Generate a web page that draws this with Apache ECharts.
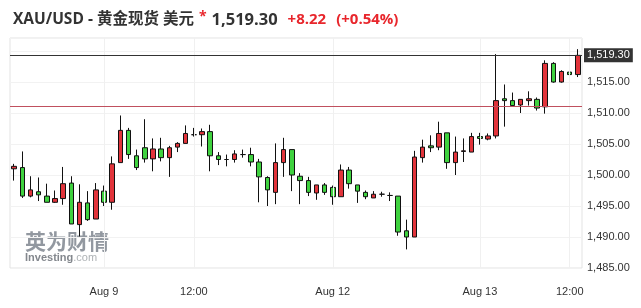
<!DOCTYPE html>
<html><head><meta charset="utf-8">
<script src="https://cdn.jsdelivr.net/npm/echarts@6/dist/echarts.min.js"></script>
<style>html,body{margin:0;padding:0;background:#fff}#c{width:641px;height:308px}</style>
</head><body><div id="c"></div>
<script>
const opens = [1501.0,1501.2,1496.6,1497.3,1496.6,1495.6,1496.2,1498.7,1492.0,1495.5,1492.9,1497.4,1495.6,1502.0,1507.2,1503.1,1504.4,1502.6,1504.2,1502.8,1504.5,1505.1,1506.5,1506.5,1507.0,1503.1,1502.5,1502.5,1503.3,1503.3,1502.1,1499.6,1497.2,1502.0,1504.1,1499.8,1499.1,1497.1,1498.4,1498.0,1496.5,1500.8,1498.4,1497.2,1496.3,1496.9,1496.7,1496.6,1491.0,1490.0,1502.8,1504.7,1504.5,1506.8,1502.0,1503.8,1503.7,1506.2,1505.8,1506.3,1512.3,1512.0,1511.3,1512.0,1512.2,1511.0,1518.0,1515.0,1516.6,1516.2];
const closes = [1501.4,1496.6,1497.6,1496.8,1495.6,1496.2,1498.6,1492.1,1495.6,1492.8,1497.6,1495.6,1501.8,1507.2,1503.3,1501.2,1502.6,1504.2,1502.8,1504.4,1505.1,1506.7,1506.5,1507.0,1503.1,1502.5,1502.5,1503.4,1503.3,1502.1,1499.7,1497.6,1502.0,1504.1,1500.0,1499.1,1497.2,1498.4,1497.2,1496.5,1500.8,1498.6,1497.4,1496.5,1496.9,1496.9,1496.7,1490.8,1490.0,1502.9,1504.5,1504.4,1506.7,1502.0,1503.7,1503.9,1506.2,1505.9,1506.3,1512.0,1512.0,1511.2,1512.2,1512.3,1510.8,1518.0,1515.0,1516.7,1516.2,1519.3];
const lows = [1499.1,1496.3,1496.4,1495.8,1495.6,1495.5,1495.2,1492.1,1490.1,1492.6,1492.9,1495.0,1494.4,1502.0,1502.6,1500.8,1502.0,1500.6,1502.2,1499.7,1503.7,1505.1,1506.2,1504.6,1500.6,1501.6,1501.4,1502.0,1502.8,1501.4,1495.6,1495.0,1495.3,1499.7,1497.4,1495.3,1496.6,1496.0,1496.8,1495.2,1496.5,1497.8,1495.5,1496.1,1496.3,1496.5,1495.8,1490.2,1488.0,1490.0,1502.0,1503.7,1504.0,1501.0,1500.0,1502.1,1503.7,1504.9,1505.6,1505.9,1507.8,1511.2,1510.0,1511.2,1510.4,1509.9,1514.9,1514.9,1515.9,1515.8];
const highs = [1501.8,1503.8,1499.8,1499.6,1498.6,1497.5,1501.3,1499.8,1498.5,1497.4,1498.7,1498.3,1503.0,1509.6,1507.6,1504.1,1509.0,1505.9,1506.0,1504.7,1505.3,1508.0,1507.6,1507.5,1508.1,1503.7,1503.3,1504.0,1504.1,1504.4,1502.6,1499.8,1505.1,1506.0,1504.1,1500.3,1499.7,1498.4,1498.7,1498.3,1501.7,1501.3,1498.4,1497.5,1497.4,1497.3,1497.2,1496.6,1492.8,1503.9,1505.7,1506.4,1508.6,1506.8,1506.2,1505.9,1506.8,1506.8,1506.7,1519.5,1514.6,1513.3,1512.2,1513.5,1512.5,1518.5,1518.2,1516.9,1516.6,1520.3];
const tickIndex = [11, 22, 39, 57, 68];
const tickLabels = ['Aug 9', '12:00', 'Aug 12', 'Aug 13', '12:00'];
const lastPrice = 1519.30;
const prevClose = 1511.08;
const change = '+8.22';
const changePct = '(+0.54%)';
const yMin = 1485, yMax = 1522.1, yStep = 5;

const categories = opens.map((_, i) => String(i));
const ohlc = opens.map((o, i) => [o, closes[i], lows[i], highs[i]]);
const fmt = v => v.toLocaleString('en-US', {minimumFractionDigits: 2, maximumFractionDigits: 2});

const chart = echarts.init(document.getElementById('c'), null, {renderer: 'canvas'});
const vLines = tickIndex.map(i => ({xAxis: String(i), lineStyle: {color: '#f0f0f0', type: 'solid', width: 1}, label: {show: false}}));
chart.setOption({
  animation: false,
  textStyle: {fontFamily: 'Liberation Sans, Arial, sans-serif'},
  title: {
    left: 8, top: 5,
    text: '{a|XAU/USD - 黄金现货 美元} {s|*} {b|' + fmt(lastPrice) + '}  {c|' + change + '}  {c|' + changePct + '}',
    textStyle: {
      rich: {
        a: {fontFamily: 'Open Sans, Noto Sans CJK SC, sans-serif', fontSize: 15.5, color: '#333'},
        s: {fontFamily: 'Open Sans, sans-serif', fontSize: 14, color: '#e8262c', verticalAlign: 'top', padding: [0, 0, 6, 0]},
        b: {fontFamily: 'Open Sans, sans-serif', fontSize: 16.5, fontWeight: 'bold', color: '#333'},
        c: {fontFamily: 'Open Sans, sans-serif', fontSize: 15, fontWeight: 'bold', color: '#e8262c'}
      }
    }
  },
  grid: {left: 10, right: 59, top: 38, bottom: 40, show: true, borderColor: '#e3e3e3', borderWidth: 1},
  xAxis: {
    type: 'category', data: categories, boundaryGap: true,
    axisLine: {show: false}, axisTick: {show: false}, splitLine: {show: false},
    axisLabel: {
      interval: (idx) => tickIndex.includes(idx),
      formatter: (val, idx) => { const k = tickIndex.indexOf(idx); return k >= 0 ? tickLabels[k] : ''; },
      color: '#333', fontSize: 11, margin: 18
    }
  },
  yAxis: {
    type: 'value', position: 'right', min: yMin, max: yMax, interval: yStep,
    axisLine: {show: false}, axisTick: {show: false},
    splitLine: {show: true, lineStyle: {color: '#f2f2f2'}},
    axisLabel: {
      showMaxLabel: false,
      formatter: v => (v > 1516 ? '' : fmt(v)),
      color: '#333', fontSize: 11, margin: 5
    }
  },
  series: [{
    type: 'candlestick',
    data: ohlc,
    barWidth: 5,
    itemStyle: {
      color: '#e2343b', color0: '#3fd23f',
      borderColor: '#111', borderColor0: '#111', borderColorDoji: '#111', borderWidth: 1
    },
    markLine: {
      symbol: 'none', silent: true, animation: false,
      data: vLines.concat([
        {yAxis: prevClose, lineStyle: {color: '#c0505e', type: 'solid', width: 1}, label: {show: false}},
        {yAxis: lastPrice, lineStyle: {color: '#333', type: 'solid', width: 1},
          label: {show: true, position: 'end', distance: 2, formatter: () => fmt(lastPrice),
            backgroundColor: '#333', color: '#fff', fontSize: 11, padding: [2, 3, 1, 3]}}
      ])
    }
  }],
  graphic: [
    {type: 'text', left: 25, top: 231, z: 0, style: {text: '英为财情', fontSize: 21, fontWeight: 'bold', fill: 'rgba(110,118,128,0.75)', fontFamily: 'Noto Sans CJK SC, sans-serif'}},
    {type: 'text', left: 25, top: 252, z: 0, style: {text: '{i|Investing}{j|.com}', rich: {i: {fontSize: 11, fontWeight: 'bold', fill: 'rgba(100,105,112,0.8)', fontFamily: 'Liberation Sans, sans-serif'}, j: {fontSize: 11, fill: 'rgba(140,145,150,0.7)', fontFamily: 'Liberation Sans, sans-serif'}}}}
  ]
});
</script></body></html>
